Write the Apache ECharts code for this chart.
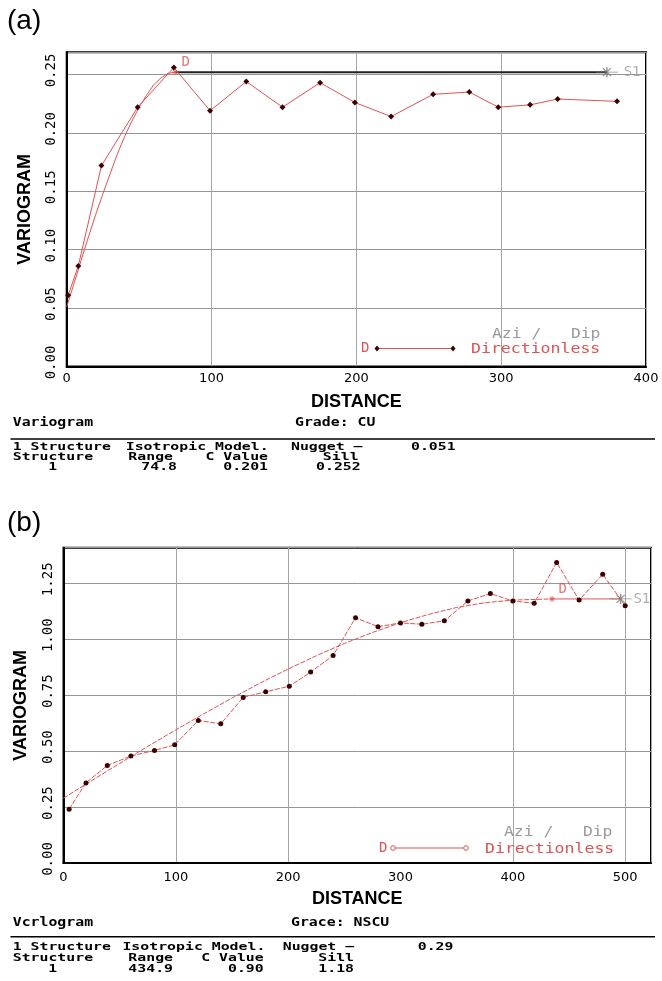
<!DOCTYPE html>
<html><head><meta charset="utf-8">
<script src="https://cdn.jsdelivr.net/npm/echarts@6/dist/echarts.min.js"></script>
<style>html,body{margin:0;padding:0;background:#fff}#c{width:662px;height:981px}</style>
</head><body><div id="c"></div>
<script>
// ---------- Panel (a) data ----------
const xTicksA = [0, 100, 200, 300, 400];
const yTicksA = [0, 0.05, 0.10, 0.15, 0.20, 0.25];
const yMaxA = 0.269;
const expA_dist  = [1, 8, 24, 49, 74, 99, 124, 149, 175, 199, 224, 253, 278, 298, 320, 339, 380];
const expA_gamma = [0.061, 0.086, 0.172, 0.222, 0.256, 0.219, 0.244, 0.222, 0.243, 0.226, 0.214, 0.233, 0.235, 0.222, 0.224, 0.229, 0.227];
const modelA_dist  = [0, 5, 10, 15, 20, 25, 30, 35, 40, 45, 50, 55, 60, 65, 70, 74.8];
const modelA_gamma = [0.051, 0.071, 0.091, 0.111, 0.130, 0.148, 0.165, 0.182, 0.197, 0.210, 0.222, 0.232, 0.241, 0.247, 0.251, 0.252];
const sillA_dist  = [74.8, 373];
const sillA_gamma = [0.252, 0.252];
const rangeA = [74.8, 0.252];
const s1A = [373, 0.252];

// ---------- Panel (b) data ----------
const xTicksB = [0, 100, 200, 300, 400, 500];
const xMaxB = 523;
const yTicksB = [0, 0.25, 0.50, 0.75, 1.00, 1.25];
const yMaxB = 1.409;
const expB_dist  = [5, 20, 39, 60, 81, 99, 120, 140, 160, 180, 201, 220, 240, 260, 280, 300, 319, 339, 360, 380, 400, 419, 439, 459, 480, 500];
const expB_gamma = [0.240, 0.358, 0.436, 0.478, 0.503, 0.528, 0.637, 0.622, 0.740, 0.765, 0.790, 0.853, 0.927, 1.096, 1.056, 1.073, 1.067, 1.082, 1.171, 1.204, 1.171, 1.161, 1.343, 1.175, 1.290, 1.150];
const modelB_dist  = [0, 25, 50, 75, 100, 125, 150, 175, 200, 225, 250, 275, 300, 325, 350, 375, 400, 434.9];
const modelB_gamma = [0.29, 0.368, 0.445, 0.521, 0.595, 0.667, 0.737, 0.804, 0.867, 0.926, 0.981, 1.030, 1.074, 1.111, 1.142, 1.163, 1.175, 1.18];
const sillB_dist  = [434.9, 496];
const sillB_gamma = [1.18, 1.18];
const rangeB = [434.9, 1.18];
const s1B = [496, 1.18];

// ---------- text data ----------
const infoA = {title: 'Variogram', grade: 'Grade: CU', nugget: '0.051', range: '74.8', cval: '0.201', sill: '0.252'};
const infoB = {title: 'Vcrlogram', grade: 'Grace: NSCU', nugget: '0.29', range: '434.9', cval: '0.90', sill: '1.18'};

// ---------- styles ----------
const RED = '#e05252', DARK = '#3a0000', GREY = '#9a9a9a', GRIDH = '#959595', GRIDV = '#a6a6a6';
const MONO = '"DejaVu Sans Mono", monospace';
const pairs = (xs, ys) => xs.map((x, i) => [x, ys[i]]);
const asterisk = 'path://M-5,0L5,0M0,-5L0,5M-3.5,-3.5L3.5,3.5M-3.5,3.5L3.5,-3.5';
const s1Sym = 'path://M-11,0L11,0M0,-5L0,5M-4,-4L4,4M-4,4L4,-4';

function xAxisCfg(gi, ticks, max, showMax, gapColors, labelMargin) {
  return {
    type: 'value', gridIndex: gi, min: ticks[0], max: max, interval: ticks[1] - ticks[0],
    axisLine: {show: true, onZero: false, lineStyle: {color: '#000', width: 2}},
    axisTick: {show: false},
    splitLine: {show: true, lineStyle: {color: gapColors || GRIDV, width: 1}},
    axisLabel: {color: '#000', fontFamily: '"DejaVu Sans"', fontSize: 13, margin: labelMargin, showMaxLabel: showMax},
    name: 'DISTANCE', nameLocation: 'middle', nameGap: 27,
    nameTextStyle: {color: '#000', fontFamily: '"Liberation Sans"', fontWeight: 'bold', fontSize: 18}
  };
}
function yAxisCfg(gi, ticks, max) {
  return {
    type: 'value', gridIndex: gi, min: ticks[0], max: max, interval: ticks[1] - ticks[0],
    axisLine: {show: true, onZero: false, lineStyle: {color: '#000', width: 2}},
    axisTick: {show: false},
    splitLine: {show: true, lineStyle: {color: GRIDH, width: 1}},
    axisLabel: {color: '#000', fontFamily: MONO, fontSize: 14, rotate: 90, margin: 8, showMaxLabel: false,
      padding: [0, 0, 0, 8], formatter: v => v.toFixed(2)},
    name: 'VARIOGRAM', nameLocation: 'middle', nameGap: 33,
    nameTextStyle: {color: '#000', fontFamily: '"Liberation Sans"', fontWeight: 'bold', fontSize: 18}
  };
}

function panelSeries(gi, exp, model, sill, range, s1, opt) {
  return [
    {type: 'line', xAxisIndex: gi, yAxisIndex: gi, data: model, smooth: false, symbol: 'none',
      lineStyle: {color: RED, width: 1, type: opt.dash}, z: 2, animation: false},
    {type: 'line', xAxisIndex: gi, yAxisIndex: gi, data: sill, symbol: 'none',
      lineStyle: {color: opt.sillColor, width: opt.sillWidth}, z: 2, animation: false},
    {type: 'line', xAxisIndex: gi, yAxisIndex: gi, data: exp, symbol: opt.sym, symbolSize: opt.symSize,
      itemStyle: {color: DARK}, lineStyle: {color: RED, width: 1, type: opt.dash}, z: 3, animation: false},
    {type: 'scatter', xAxisIndex: gi, yAxisIndex: gi, data: [range], symbol: asterisk, symbolSize: 6,
      itemStyle: {color: RED, borderColor: RED, borderWidth: 1}, z: 4, animation: false,
      label: {show: true, formatter: 'D', position: 'right', distance: 3, offset: [0, -10], color: RED, fontFamily: MONO, fontSize: 14}},
    {type: 'scatter', xAxisIndex: gi, yAxisIndex: gi, data: [s1], symbol: s1Sym, symbolSize: [22, 10],
      itemStyle: {color: '#777', borderColor: '#777', borderWidth: 1}, z: 4, animation: false,
      label: {show: true, formatter: 'S1', position: 'right', distance: opt.s1Dist, color: GREY, fontFamily: MONO, fontSize: 14}}
  ];
}

function txt(x, y, text, o) {
  o = o || {};
  const al = o.align || 'left';
  return {type: 'text', x: x, y: y, scaleX: o.sx || 1, scaleY: o.sy || 1, z: 100,
    style: {text: text, fill: o.fill || '#000', font: o.font || ('bold 14px ' + MONO),
      textAlign: al, align: al, textVerticalAlign: 'middle', verticalAlign: 'middle'}};
}
function infoBlock(info, y0, cols) {
  const o = {sy: 0.8, sx: 1.06};
  const r = Object.assign({align: 'right'}, o);
  return [
    txt(12.7, y0, info.title, {sy: 0.85, sx: 1.06}),
    txt(cols.grade, y0, info.grade, {sy: 0.85, sx: 1.06}),
    {type: 'line', z: 100, shape: {x1: 10.5, y1: cols.rule, x2: 655, y2: cols.rule}, style: {stroke: '#000', lineWidth: 1.5}},
    txt(12.7, cols.r1, '1 Structure', o),
    txt(cols.iso, cols.r1, 'Isotropic Model.', o),
    txt(cols.nug, cols.r1, 'Nugget \u2013', o),
    txt(cols.nugv, cols.r1, info.nugget, o),
    txt(12.7, cols.r2, 'Structure', o),
    txt(cols.c1, cols.r2, 'Range', r),
    txt(cols.c2, cols.r2, 'C Value', r),
    txt(cols.c3, cols.r2, 'Sill', r),
    txt(52.7, cols.r3, '1', Object.assign({align: 'center'}, o)),
    txt(cols.c1v, cols.r3, info.range, r),
    txt(cols.c2, cols.r3, info.cval, r),
    txt(cols.c3v, cols.r3, info.sill, r)
  ];
}
function legendBlock(L, filled) {
  const g = [
    txt(L.aziX, L.aziY, 'Azi /   Dip', {font: '14px ' + MONO, fill: GREY, sx: 1.17}),
    txt(L.dX, L.rowY, 'D', {font: '14px ' + MONO, fill: RED}),
    {type: 'line', z: 100, shape: {x1: L.l1, y1: L.rowY, x2: L.l2, y2: L.rowY}, style: {stroke: RED, lineWidth: 1}},
    txt(L.dirX, L.rowY + 1, 'Directionless', {font: '14px ' + MONO, fill: RED, sx: 1.18})
  ];
  [L.l1, L.l2].forEach(x => {
    if (filled) g.push({type: 'polygon', z: 101, shape: {points: [[x, L.rowY - 3], [x + 2.5, L.rowY], [x, L.rowY + 3], [x - 2.5, L.rowY]]}, style: {fill: DARK}});
    else g.push({type: 'circle', z: 101, shape: {cx: x, cy: L.rowY, r: 2.3}, style: {fill: '#fff', stroke: RED, lineWidth: 1}});
  });
  return g;
}

const chart = echarts.init(document.getElementById('c'), null, {renderer: 'canvas'});
const gapColorsB = [GRIDV, GRIDV, GRIDV, 'rgba(0,0,0,0)', GRIDV, GRIDV, GRIDV];

chart.setOption({
  backgroundColor: '#fff',
  animation: false,
  grid: [
    {left: 66.7, top: 52.3, right: 16, bottom: 614.5, show: true, borderColor: '#000', borderWidth: 2, backgroundColor: 'transparent'},
    {left: 63.5, top: 547.7, right: 11, bottom: 118, show: true, borderColor: '#000', borderWidth: 2, backgroundColor: 'transparent'}
  ],
  xAxis: [
    xAxisCfg(0, xTicksA, xTicksA[xTicksA.length - 1], true, null, 6),
    xAxisCfg(1, xTicksB, xMaxB, false, gapColorsB, 8)
  ],
  yAxis: [yAxisCfg(0, yTicksA, yMaxA), yAxisCfg(1, yTicksB, yMaxB)],
  series: [].concat(
    panelSeries(0, pairs(expA_dist, expA_gamma), pairs(modelA_dist, modelA_gamma), pairs(sillA_dist, sillA_gamma), rangeA, s1A,
      {dash: 'solid', sym: 'diamond', symSize: 6, sillColor: '#222', sillWidth: 2, s1Dist: 5}),
    panelSeries(1, pairs(expB_dist, expB_gamma), pairs(modelB_dist, modelB_gamma), pairs(sillB_dist, sillB_gamma), rangeB, s1B,
      {dash: [5, 1.5], sym: 'circle', symSize: 5, sillColor: RED, sillWidth: 1, s1Dist: 1})
  ),
  graphic: {elements: [].concat(
    [txt(7, 21, '(a)', {font: '28px "Liberation Sans"'}), txt(7, 523, '(b)', {font: '28px "Liberation Sans"'})],
    legendBlock({aziX: 492, aziY: 334, dX: 361, rowY: 348.5, l1: 377, l2: 453, dirX: 471}, true),
    legendBlock({aziX: 504, aziY: 832, dX: 379, rowY: 848, l1: 393, l2: 466, dirX: 485}, false),
    infoBlock(infoA, 423.3, {grade: 295, rule: 439, r1: 447.3, r2: 456.7, r3: 467.3, iso: 125.7, nug: 291, nugv: 411, c1: 173, c1v: 177, c2: 268, c3: 358.6, c3v: 360.7}),
    infoBlock(infoB, 923.3, {grade: 291, rule: 936.7, r1: 946.7, r2: 958.3, r3: 969.5, iso: 122.4, nug: 282.7, nugv: 417.7, c1: 173, c1v: 173, c2: 263.7, c3: 354, c3v: 354})
  )}
});
</script>
</body></html>
